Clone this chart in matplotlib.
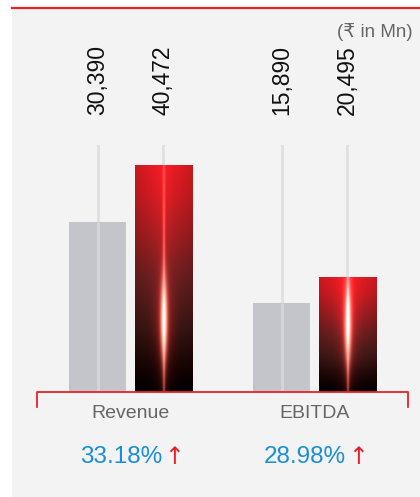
import numpy as np
import matplotlib
matplotlib.use("Agg")
import matplotlib.pyplot as plt
from matplotlib.patches import Rectangle
from matplotlib.lines import Line2D
import matplotlib.transforms as mtransforms

# ---------------- data ----------------
categories = ["Revenue", "EBITDA"]
prev_values = [30390, 15890]
curr_values = [40472, 20495]
value_labels_prev = ["30,390", "15,890"]
value_labels_curr = ["40,472", "20,495"]
growth_labels = ["33.18%", "28.98%"]
unit_label = "(₹ in Mn)"

# ---------------- style ----------------
W, H = 420, 497
DPI = 100
BG_PANEL = "#f3f3f3"
RED = "#e8212a"
GRAY_BAR = "#c4c5ca"
GRID = "#e0e0e0"
TXT_GRAY = "#666666"
BLUE = "#1b8fd6"

plt.rcParams["font.family"] = ["Liberation Sans", "DejaVu Sans"]

fig = plt.figure(figsize=(W / DPI, H / DPI), dpi=DPI)
fig.patch.set_facecolor("white")

def fx(px):
    return px / W

def fy(py):
    return 1 - py / H

# panel background and top red rule
fig.add_artist(Rectangle((fx(12), 0), fx(W) - fx(12), fy(8), transform=fig.transFigure,
                         facecolor=BG_PANEL, edgecolor="none", zorder=0))
fig.add_artist(Line2D([fx(12), 1], [fy(8), fy(8)], transform=fig.transFigure,
                      color=RED, lw=1.6, zorder=1))

ax = fig.add_axes([fx(37), fy(392), fx(408) - fx(37), fy(145) - fy(392)])
ax.set_facecolor("none")
for s in ax.spines.values():
    s.set_visible(False)
ax.set_xticks([])
ax.set_yticks([])

x = np.arange(len(categories))
bw = 0.31
off = 0.177
ymax = 44030
xlim = (-0.508, 1.508)

# vertical guide lines behind bars
for xc in np.concatenate([x - off, x + off]):
    ax.axvline(xc, color=GRID, lw=2, zorder=1)

bars_prev = ax.bar(x - off, prev_values, bw, color=GRAY_BAR, zorder=2, linewidth=0)
bars_curr = ax.bar(x + off, curr_values, bw, color="none", zorder=2, linewidth=0)

# guide line faintly visible over gray bars
for b in bars_prev:
    xc = b.get_x() + b.get_width() / 2
    ax.plot([xc, xc], [0, b.get_height()], color="#d6d6da", lw=2, zorder=3, solid_capstyle="butt")

# gradient + glow image for red bars
GRAD_V = [0.0, 0.12, 0.3, 0.5, 0.72, 0.88, 1.0]
GRAD_C = np.array([[0, 0, 0], [25, 5, 4], [65, 24, 22], [110, 32, 32],
                   [175, 30, 34], [218, 28, 35], [237, 28, 36]]) / 255.0

def bar_image(h, nx=120, ny=400):
    u = np.linspace(-1, 1, nx)[None, :]
    yy = np.linspace(h, 0, ny)[:, None]
    v = yy / h
    base = np.stack([np.interp(v, GRAD_V, GRAD_C[:, k]) for k in range(3)], axis=-1)
    base = np.broadcast_to(base, (ny, nx, 3)).copy()
    # edges a bit darker
    base = base * (1 - 0.15 * (np.abs(u) ** 1.5))[..., None]
    # red halo around centre
    yg = 12800
    sy = 7000
    env = np.exp(-((yy - yg) / sy) ** 2)
    halo = np.exp(-(u / 0.3) ** 2) * (0.12 + 0.45 * env) * (1 - 0.5 * v)
    glow_w = np.exp(-(u / 0.11) ** 2) * env
    core = np.exp(-(u / 0.04) ** 2)
    img = base.copy()
    img = img + halo[..., None] * np.array([0.8, 0.08, 0.06])[None, None, :]
    img = img + (core * 0.55)[..., None] * np.array([1.0, 0.4, 0.35])[None, None, :]
    img = img + glow_w[..., None] * np.array([1.0, 0.88, 0.8])[None, None, :]
    return np.clip(img, 0, 1)

for b in bars_curr:
    x0 = b.get_x()
    w = b.get_width()
    h = b.get_height()
    im = ax.imshow(bar_image(h), extent=(x0, x0 + w, 0, h), aspect="auto",
                   interpolation="bilinear", zorder=2.5)
    im.set_clip_path(b)

ax.set_xlim(*xlim)
ax.set_ylim(0, ymax)

# bracket (red baseline with end ticks)
d = 15 / 247
ax.plot([0, 0, 1, 1], [-d, 0, 0, -d], transform=ax.transAxes, color=RED, lw=1.3,
        clip_on=False, zorder=5)

# value labels (rotated)
ylab = fy(115)
tr_lab = mtransforms.blended_transform_factory(ax.transData, fig.transFigure)
for bars, labs in ((bars_prev, value_labels_prev), (bars_curr, value_labels_curr)):
    for b, lab in zip(bars, labs):
        xc = b.get_x() + b.get_width() / 2
        ax.text(xc, ylab, lab, transform=tr_lab, rotation=90, ha="center", va="bottom",
                fontsize=16.5, color="#111111")

# category labels
for xi, cat in zip(x, categories):
    ax.text(xi, fy(413), cat, transform=tr_lab, ha="center", va="center",
            fontsize=14, color=TXT_GRAY)

# growth labels with arrows
for xi, g in zip(x, growth_labels):
    t1 = mtransforms.offset_copy(tr_lab, fig=fig, x=31.5 * 72 / DPI, y=0, units="points")
    ax.text(xi, fy(457), g, transform=t1, ha="right", va="center", fontsize=17.5, color=BLUE)
    t2 = mtransforms.offset_copy(tr_lab, fig=fig, x=44 * 72 / DPI, y=0, units="points")
    ax.text(xi, fy(457), "↑", transform=t2, ha="center", va="center", fontsize=17,
            color=RED, family=["DejaVu Sans"])

# unit label
fig.text(fx(413), fy(32), unit_label, ha="right", va="center", fontsize=13.5, color="#666666")

fig.savefig("out.png", dpi=DPI)
